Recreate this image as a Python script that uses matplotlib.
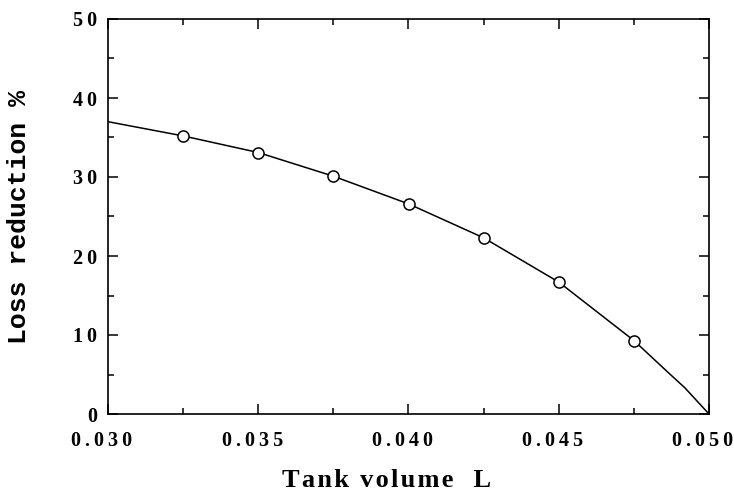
import matplotlib
matplotlib.use("Agg")
import matplotlib.pyplot as plt
from matplotlib.ticker import MultipleLocator, FuncFormatter
from matplotlib.transforms import ScaledTranslation

# Data
marker_x = [0.0325, 0.035, 0.0375, 0.040, 0.0425, 0.045, 0.0475]
marker_y = [35.2, 33.1, 30.1, 26.6, 22.3, 16.7, 9.3]

line_x = [0.030, 0.0325, 0.035, 0.0375, 0.040, 0.0425, 0.045, 0.0475, 0.0486, 0.0492, 0.050]
line_y = [37.0, 35.2, 33.1, 30.1, 26.6, 22.3, 16.7, 9.3, 5.4, 3.3, 0.0]

x_label = "Tank volume  L"
y_label = "Loss reduction %"

fig = plt.figure(figsize=(7.34, 4.94), dpi=100)
ax = fig.add_axes([108/734, 80/494, 601/734, 395/494])

ax.plot(line_x, line_y, color="black", lw=1.1, zorder=2)
ax.plot(marker_x, marker_y, linestyle="none", marker="o", markersize=8,
        markerfacecolor="white", markeredgecolor="black", markeredgewidth=1.1, zorder=3)

ax.set_xlim(0.030, 0.050)
ax.set_ylim(0, 50)
ax.xaxis.set_major_locator(MultipleLocator(0.005))
ax.xaxis.set_minor_locator(MultipleLocator(0.0025))
ax.yaxis.set_major_locator(MultipleLocator(10))
ax.yaxis.set_minor_locator(MultipleLocator(5))

ax.xaxis.set_major_formatter(FuncFormatter(lambda v, p: "\u2009".join("{:.3f}".format(v))))
ax.yaxis.set_major_formatter(FuncFormatter(lambda v, p: "\u2009".join("{:.0f}".format(v))))

for s in ax.spines.values():
    s.set_linewidth(1.2)

ax.tick_params(which="both", direction="in", top=True, right=True, width=1.1, color="black")
ax.tick_params(which="major", length=7.5)
ax.tick_params(which="minor", length=4.5)
ax.tick_params(axis="x", which="major", pad=12.5)
ax.tick_params(axis="y", which="major", pad=8)

for lab in ax.get_xticklabels() + ax.get_yticklabels():
    lab.set_fontfamily(["Liberation Serif", "DejaVu Serif"])
    lab.set_fontweight("bold")
    lab.set_fontsize(14.5)

ax.set_xlabel("\u200a".join(x_label), fontfamily=["Liberation Serif", "DejaVu Serif"],
              fontweight="bold", fontsize=19)
ax.xaxis.set_label_coords(0.464, -0.139)
ax.set_ylabel(y_label, fontfamily=["Liberation Mono", "DejaVu Sans Mono"],
              fontweight="bold", fontsize=19)
ax.yaxis.set_label_coords(-0.128, 0.5)

fig.canvas.draw()
shift = ScaledTranslation(-6/100, 0, fig.dpi_scale_trans)
for lab in ax.xaxis.get_majorticklabels():
    lab.set_transform(lab.get_transform() + shift)

fig.savefig("out.png", dpi=100)
